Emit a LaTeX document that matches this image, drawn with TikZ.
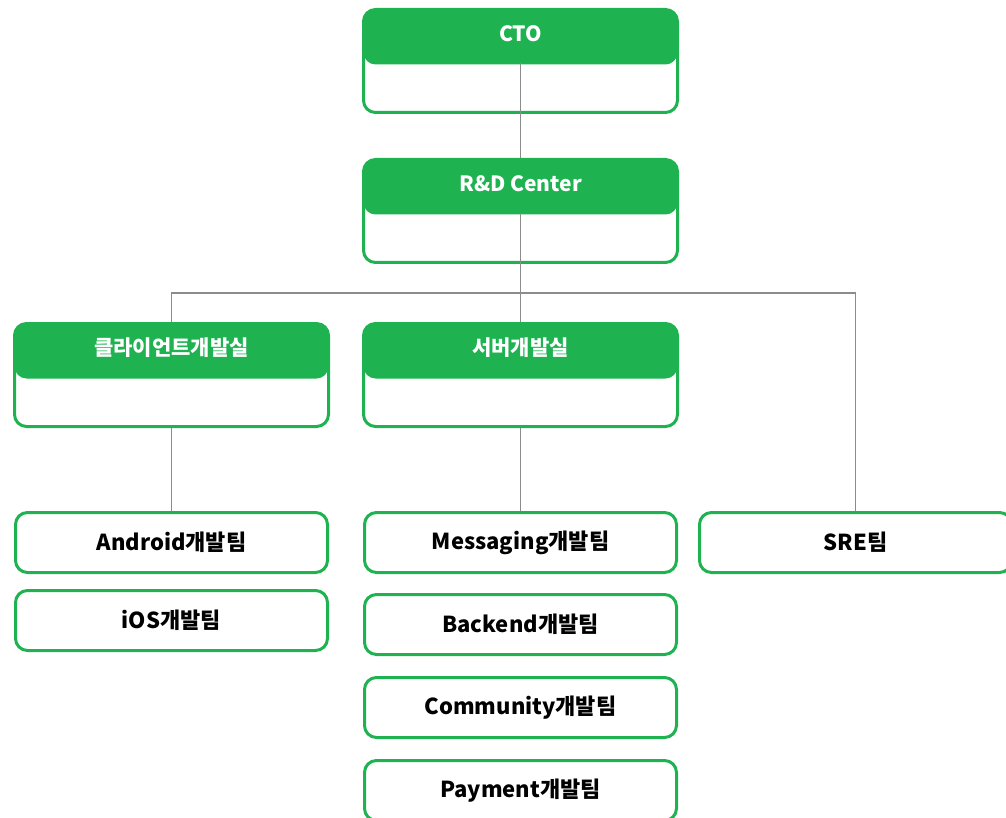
\documentclass[tikz,border=0pt]{standalone}
\usepackage{fontspec}
\setmainfont{Noto Sans CJK KR}
\usetikzlibrary{positioning, calc}
\definecolor{headgreen}{RGB}{30,178,80}
\definecolor{linegray}{RGB}{140,140,140}
\tikzstyle{dept} = [rectangle, draw=headgreen, line width=3pt, rounded corners=12pt, fill=white, minimum width=314pt, minimum height=103pt, inner sep=0pt, path picture={\fill[headgreen] (path picture bounding box.north west) rectangle ([yshift=-55pt]path picture bounding box.north east);}]
\tikzstyle{headtext} = [text=white, font=\fontsize{21}{25}\selectfont\bfseries]
\tikzstyle{team} = [rectangle, draw=headgreen, line width=3pt, rounded corners=12pt, fill=white, minimum width=312pt, minimum height=60pt, font=\fontsize{22}{26}\selectfont\bfseries]
\tikzstyle{link} = [draw=linegray, line width=1.5pt]

\begin{document}
\begin{tikzpicture}[x=1pt, y=1pt, node distance = 20pt]
	\useasboundingbox (0,0) rectangle (1006,-818);
	% upper levels
	\node (CTO) [dept] at (520.5,-61) {};
	\node (CTOText) [headtext] at ([yshift=-26pt]CTO.north) {CTO};
	\node (Center) [dept, below = 44pt of CTO] {};
	\node (CenterText) [headtext] at ([yshift=-26pt]Center.north) {R\&D Center};
	\node (Server) [dept, below = 58pt of Center] {};
	\node (ServerText) [headtext] at ([yshift=-26pt]Server.north) {서버개발실};
	\node (Client) [dept, left = 32pt of Server] {};
	\node (ClientText) [headtext] at ([yshift=-26pt]Client.north) {클라이언트개발실};
	% teams
	\node (Messaging) [team, below = 83pt of Server] {Messaging개발팀};
	\node (Backend) [team, below = 19pt of Messaging] {Backend개발팀};
	\node (Community) [team, below = 20pt of Backend] {Community개발팀};
	\node (Payment) [team, below = 20pt of Community] {Payment개발팀};
	\node (Android) [team, below = 83pt of Client] {Android개발팀};
	\node (iOS) [team, below = 15pt of Android] {iOS개발팀};
	\node (SRE) [team, right = 20pt of Messaging] {SRE팀};
	% connectors
	\coordinate (Split) at ($(Center.south)+(0,-29pt)$);
	\draw [link] ([yshift=-55pt]CTO.north) -- (Center.north);
	\draw [link] ([yshift=-55pt]Center.north) -- (Server.north);
	\draw [link] (Client.north) -- (Client.north |- Split) -- (SRE.north |- Split) -- (SRE.north);
	\draw [link] (Client.south) -- (Android.north);
	\draw [link] (Server.south) -- (Messaging.north);
\end{tikzpicture}
\end{document}
